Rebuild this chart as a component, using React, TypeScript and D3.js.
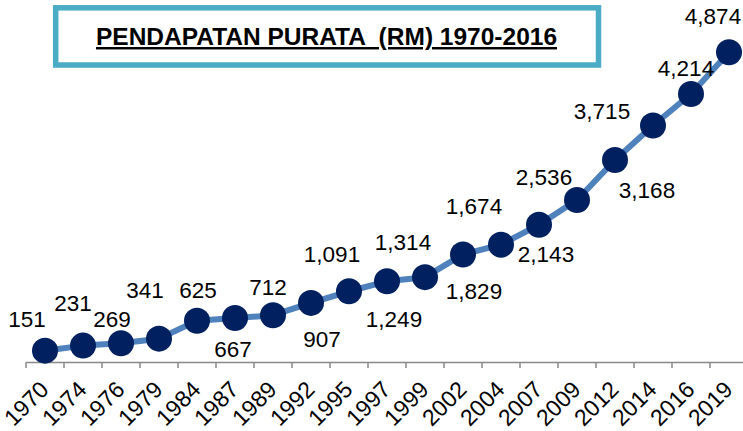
import { useRef, useEffect } from "react";
import * as d3 from "d3";

// tahun dan pendapatan purata (RM)
const years = [
  "1970", "1974", "1976", "1979", "1984", "1987", "1989", "1992", "1995", "1997",
  "1999", "2002", "2004", "2007", "2009", "2012", "2014", "2016", "2019",
];
const incomes = [
  151, 231, 269, 341, 625, 667, 712, 907, 1091, 1249,
  1314, 1674, 1829, 2143, 2536, 3168, 3715, 4214, 4874,
];
// where each data label sits relative to its point (manual layout, like the original)
const labelOffsets: [number, number][] = [
  [-18, -24], [-10, -35], [-9, -16], [-14, -41], [1, -23], [-2, 39], [-5, -20],
  [11, 44], [-17, -29], [7, 46], [-22, -27], [11, -40], [-27, 54], [7, 37],
  [-33, -15], [32, 38], [-51, -6], [-5, -18], [-16, -28],
];
const title = "PENDAPATAN PURATA  (RM) 1970-2016";

const W = 743;
const H = 431;

const App = () => {
  const svgRef = useRef<SVGSVGElement>(null);

  useEffect(() => {
    const svg = d3.select(svgRef.current);
    svg.selectAll("*").remove();

    const x = d3.scaleBand().domain(years).range([26, 748]);
    const y = d3.scaleLinear().domain([0, 5000]).range([360.2, 44.3]);
    const cx = (d: string) => (x(d) ?? 0) + x.bandwidth() / 2;
    const axisY = 362;
    const font = "'Liberation Sans', Arial, sans-serif";

    // title box
    svg
      .append("rect")
      .attr("x", 55.7)
      .attr("y", 7.8)
      .attr("width", 542.8)
      .attr("height", 57.2)
      .attr("fill", "white")
      .attr("stroke", "#4BACC6")
      .attr("stroke-width", 5.5);

    svg
      .append("text")
      .attr("x", 326.5)
      .attr("y", 45)
      .attr("text-anchor", "middle")
      .attr("font-family", font)
      .attr("font-weight", "bold")
      .attr("font-size", 24.5)
      .attr("text-decoration", "underline")
      .style("white-space", "pre")
      .attr("fill", "#000")
      .text(title);

    // x axis
    const axis = svg
      .append("g")
      .attr("transform", `translate(0, ${axisY})`)
      .call(
        d3
          .axisBottom(x)
          .tickSize(0)
          .tickFormat(() => "")
      );
    axis.select(".domain").attr("stroke", "#898989").attr("stroke-width", 1.5);
    axis.selectAll(".tick").remove();

    const boundaries = d3.range(years.length + 1).map((i) => 26 + i * x.bandwidth());
    svg
      .append("g")
      .selectAll("line")
      .data(boundaries)
      .join("line")
      .attr("x1", (d) => d)
      .attr("x2", (d) => d)
      .attr("y1", axisY)
      .attr("y2", axisY + 6)
      .attr("stroke", "#898989")
      .attr("stroke-width", 1.5);

    svg
      .append("g")
      .selectAll("text")
      .data(years)
      .join("text")
      .attr("transform", (d) => `translate(${cx(d) + 5}, 391) rotate(-45)`)
      .attr("text-anchor", "end")
      .attr("font-family", font)
      .attr("font-size", 23)
      .attr("fill", "#000")
      .text((d) => d);

    // line
    const line = d3
      .line<number>()
      .x((_, i) => cx(years[i]))
      .y((d) => y(d));

    svg
      .append("path")
      .datum(incomes)
      .attr("d", line)
      .attr("fill", "none")
      .attr("stroke", "#4F81BD")
      .attr("stroke-width", 6)
      .attr("stroke-linejoin", "round");

    svg
      .append("g")
      .selectAll("circle")
      .data(incomes)
      .join("circle")
      .attr("cx", (_, i) => cx(years[i]))
      .attr("cy", (d) => y(d))
      .attr("r", 13)
      .attr("fill", "#002060");

    // data labels
    svg
      .append("g")
      .selectAll("text")
      .data(incomes)
      .join("text")
      .attr("x", (_, i) => cx(years[i]) + labelOffsets[i][0])
      .attr("y", (d, i) => y(d) + labelOffsets[i][1])
      .attr("text-anchor", "middle")
      .attr("font-family", font)
      .attr("font-size", 22.5)
      .attr("fill", "#000")
      .text((d) => d3.format(",")(d));
  }, []);

  return (
    <svg
      ref={svgRef}
      width={W}
      height={H}
      style={{ position: "absolute", left: 0, top: 0, background: "white" }}
    ></svg>
  );
};

export default App;
